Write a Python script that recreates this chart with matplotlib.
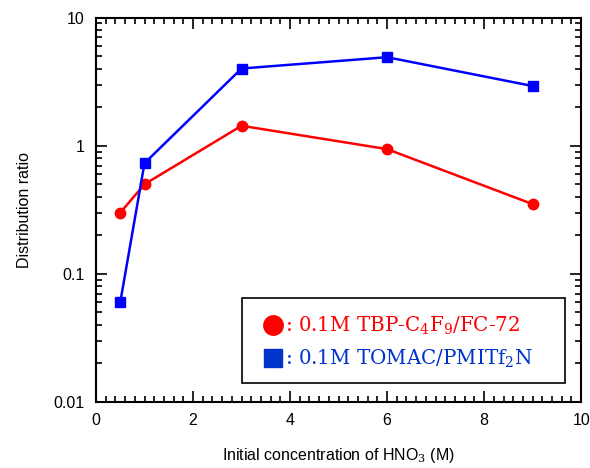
import matplotlib
matplotlib.use("Agg")
import matplotlib.pyplot as plt
from matplotlib.lines import Line2D
from matplotlib.patches import Rectangle
from matplotlib.ticker import MultipleLocator, LogLocator, NullFormatter

plt.rcParams['font.family'] = ['Liberation Sans', 'DejaVu Sans']
plt.rcParams['mathtext.fontset'] = 'custom'
plt.rcParams['mathtext.rm'] = 'DejaVu Serif'

x_vals = [0.5, 1, 3, 6, 9]
tbp_vals = [0.30, 0.50, 1.43, 0.94, 0.35]
tomac_vals = [0.060, 0.73, 4.0, 4.9, 2.92]
tbp_label = ": 0.1M TBP-C$\\mathregular{_4}$F$\\mathregular{_9}$/FC-72"
tomac_label = ": 0.1M TOMAC/PMITf$\\mathregular{_2}$N"

fig = plt.figure(figsize=(5.9, 4.68), dpi=100)
ax = fig.add_axes([0.1627, 0.141, 0.8223, 0.8216])

ax.plot(x_vals, tbp_vals, color='#ff0000', lw=1.8, marker='o', ms=7.5, zorder=3)
ax.plot(x_vals, tomac_vals, color='#0000ff', lw=1.8, marker='s', ms=7.5, zorder=3)

ax.set_yscale('log')
ax.set_xlim(0, 10)
ax.set_ylim(0.01, 10)
ax.xaxis.set_major_locator(MultipleLocator(2))
ax.xaxis.set_minor_locator(MultipleLocator(0.2))
ax.yaxis.set_minor_locator(LogLocator(base=10, subs=range(2, 10)))
ax.yaxis.set_minor_formatter(NullFormatter())
ax.set_yticks([0.01, 0.1, 1, 10])
ax.set_yticklabels(['0.01', '0.1', '1', '10'])
ax.tick_params(which='both', direction='in', top=True, right=True, labelsize=11.5, width=1.2)
ax.tick_params(which='major', length=8, pad=8)
ax.tick_params(which='minor', length=4.5)
for s in ax.spines.values():
    s.set_linewidth(1.5)

ax.set_xlabel('Initial concentration of HNO$_3$ (M)', fontsize=11.5, labelpad=13)
ax.set_ylabel('Distribution ratio', fontsize=11.5, labelpad=16)

# legend frame
ax.add_patch(Rectangle((0.301, 0.049), 0.666, 0.221, transform=ax.transAxes,
                       fill=True, facecolor='white', edgecolor='black', lw=1.2, zorder=4))

handles = [Line2D([], [], color='#ff0000', marker='o', ms=14, ls='none'),
           Line2D([], [], color='#0033cc', marker='s', ms=13, ls='none')]
leg = ax.legend(handles, [tbp_label, tomac_label], loc='center left',
                bbox_to_anchor=(0.333, 0.155), frameon=False,
                handletextpad=-0.2, handlelength=1.6,
                borderpad=0.0, borderaxespad=0.0, labelspacing=0.55,
                prop={'family': 'DejaVu Serif', 'size': 14.3})
leg.set_zorder(5)
leg.get_texts()[0].set_color('#ff0000')
leg.get_texts()[1].set_color('#0033cc')

fig.savefig('out.png', dpi=100)
